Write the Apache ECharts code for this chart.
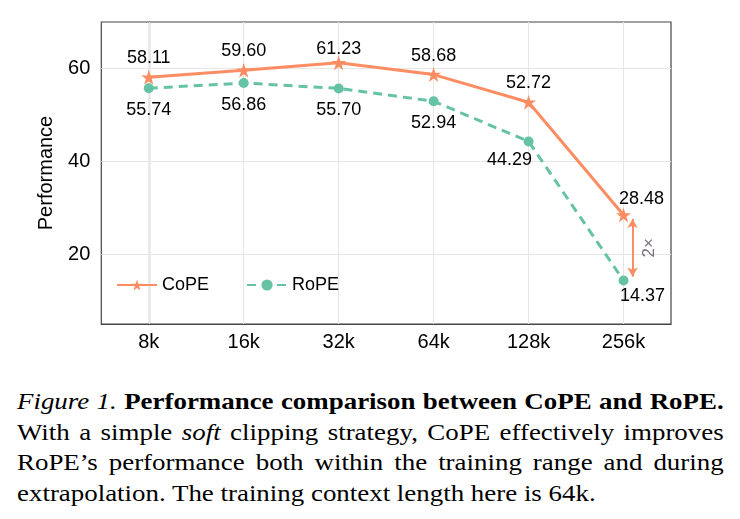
<!DOCTYPE html>
<html>
<head>
<meta charset="utf-8">
<script src="https://cdn.jsdelivr.net/npm/echarts@6/dist/echarts.min.js"></script>
<style>
  body { margin: 0; background: #fff; }
  #wrap { position: relative; width: 740px; height: 519px; overflow: hidden; }
  #chart { position: absolute; left: 0; top: 0; width: 740px; height: 370px; }
  #caption {
    position: absolute; left: 17px; top: 387px; width: 604px;
    transform: scaleX(1.17); transform-origin: 0 0;
    font-family: "Liberation Serif", "Times New Roman", serif;
    font-size: 23px; line-height: 30.7px; text-align: justify; color: #000;
  }
</style>
</head>
<body>
<div id="wrap">
  <div id="chart"></div>
  <div id="caption"><i>Figure 1.</i> <b>Performance comparison between CoPE and RoPE.</b> With a simple <i>soft</i> clipping strategy, CoPE effectively improves RoPE’s performance both within the training range and during extrapolation. The training context length here is 64k.</div>
</div>
<script>
const categories = ['8k', '16k', '32k', '64k', '128k', '256k']
const copeValues = [58.11, 59.60, 61.23, 58.68, 52.72, 28.48]
const ropeValues = [55.74, 56.86, 55.70, 52.94, 44.29, 14.37]
const yTicks = [20, 40, 60]
// 2x gap annotation: arrow ends (y values) and label
const gapArrow = [27.6, 15.2]
const gapLabel = '2×'

const orange = '#fc8d62'
const green = '#66c2a5'
const frame = '#444'
const font = '"Liberation Sans", Arial, Helvetica, sans-serif'
const star = 'path://M50,0 L61.2,34.5 L97.6,34.5 L68.2,55.9 L79.4,90.5 L50,69.1 L20.6,90.5 L31.8,55.9 L2.4,34.5 L38.8,34.5 Z'

// label nudges for the crowded points
const copeOffsets = { 2: [0, 5], 5: [18, 3] }
const ropeOffsets = { 4: [-19, -3], 5: [19, -6] }

function withLabels(values, offsets) {
  return values.map((v, i) => offsets[i] ? { value: v, label: { offset: offsets[i] } } : v)
}

const chart = echarts.init(document.getElementById('chart'))

const option = {
  animation: false,
  textStyle: { fontFamily: font },
  grid: { left: 101.3, right: 69, top: 22, bottom: 46, show: true, borderColor: frame, borderWidth: 1.2, backgroundColor: 'transparent' },
  legend: {
    data: ['CoPE', 'RoPE'],
    left: 116, top: 276, padding: 0,
    itemWidth: 40, itemHeight: 14, itemGap: 37,
    textStyle: { fontSize: 18, color: '#000', fontFamily: font }
  },
  xAxis: [
    {
      type: 'category',
      data: categories,
      boundaryGap: true,
      axisLine: { lineStyle: { color: frame, width: 1.2 } },
      axisTick: { alignWithLabel: true, length: 4, lineStyle: { color: frame } },
      axisLabel: { fontSize: 20, color: '#000', margin: 8 },
      splitLine: { show: false }
    },
    { type: 'value', min: -0.5, max: 5.5, show: false }
  ],
  yAxis: {
    type: 'value',
    min: 5, max: 70,
    name: 'Performance',
    nameLocation: 'middle',
    nameGap: 45,
    nameTextStyle: { fontSize: 20, color: '#000' },
    axisLine: { show: true, lineStyle: { color: frame, width: 1.2 } },
    axisTick: { show: true, length: 5, customValues: yTicks, lineStyle: { color: frame } },
    axisLabel: { fontSize: 20, color: '#000', margin: 11, customValues: yTicks },
    splitLine: { show: false }
  },
  series: [
    {
      name: 'gridlines',
      type: 'line',
      data: [],
      silent: true,
      markLine: {
        silent: true, symbol: 'none', z: 1, label: { show: false },
        lineStyle: { color: '#e6e6e6', width: 1, type: 'solid' },
        data: yTicks.map(t => ({ yAxis: t })).concat(categories.map(c => ({ xAxis: c })))
      }
    },
    {
      name: 'CoPE',
      type: 'line',
      data: withLabels(copeValues, copeOffsets),
      symbol: star,
      symbolSize: 15,
      z: 4,
      lineStyle: { color: orange, width: 3 },
      itemStyle: { color: orange },
      label: { show: true, position: 'top', distance: 2.5, fontSize: 18, color: '#000', formatter: p => p.value.toFixed(2) }
    },
    {
      name: 'RoPE',
      type: 'line',
      data: withLabels(ropeValues, ropeOffsets),
      symbol: 'circle',
      symbolSize: 10,
      z: 3,
      lineStyle: { color: green, width: 3, type: [9, 6] },
      itemStyle: { color: green },
      label: { show: true, position: 'bottom', distance: 8, fontSize: 18, color: '#000', formatter: p => p.value.toFixed(2) }
    },
    {
      name: 'gap',
      type: 'scatter',
      xAxisIndex: 1,
      data: [[5.27, (gapArrow[0] + gapArrow[1]) / 2]],
      symbolSize: 0,
      silent: true,
      label: { show: true, position: 'inside', rotate: 90, fontSize: 17, color: '#5b4a5e', formatter: gapLabel },
      markLine: {
        silent: true,
        symbol: ['arrow', 'arrow'],
        symbolSize: [8, 9],
        label: { show: false },
        lineStyle: { color: orange, width: 2, type: 'solid' },
        data: [[{ coord: [5.095, gapArrow[0]] }, { coord: [5.095, gapArrow[1]] }]]
      }
    }
  ]
}

chart.setOption(option)
</script>
</body>
</html>
